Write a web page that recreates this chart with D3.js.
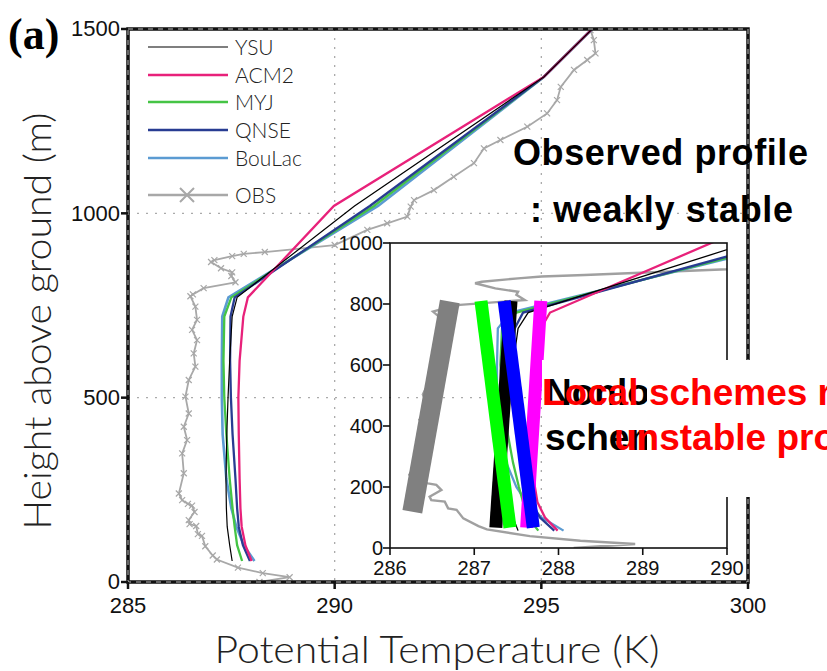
<!DOCTYPE html>
<meta charset="utf-8">
<style>
body { margin: 0; background: #fff; }
svg { display: block; }
.ticklab { font: 22px "Liberation Sans", Arial, sans-serif; fill: #111; }
.insetlab { font: 20px "Liberation Sans", Arial, sans-serif; fill: #111; }
.thin { font-family: Lato, "DejaVu Sans", sans-serif; font-weight: 300; fill: #222; }
.note { font: bold 36px "Liberation Sans", Arial, sans-serif; }
.note2 { font: bold 37px "Liberation Sans", Arial, sans-serif; }
</style>
<svg width="827" height="671"></svg>
<script src="https://d3js.org/d3.v7.min.js"></script>
<script>

// model levels (m) and potential temperature (K) of each scheme
var modelHeights = [57, 100, 150, 200, 280, 400, 500, 600, 720, 772, 1020, 1370, 1500];
var ysuTemp    = [287.52, 287.46, 287.40, 287.38, 287.37, 287.39, 287.42, 287.46, 287.52, 287.64, 290.48, 295.06, 296.23];
var acm2Temp   = [287.99, 287.84, 287.75, 287.72, 287.70, 287.68, 287.67, 287.70, 287.79, 287.90, 289.98, 295.06, 296.23];
var myjTemp    = [287.76, 287.64, 287.58, 287.53, 287.46, 287.38, 287.33, 287.31, 287.33, 287.50, 290.95, 295.06, 296.23];
var qnseTemp   = [287.95, 287.78, 287.68, 287.64, 287.60, 287.53, 287.49, 287.47, 287.48, 287.58, 290.85, 295.06, 296.23];
var boulacTemp = [288.06, 287.80, 287.62, 287.50, 287.38, 287.29, 287.27, 287.27, 287.28, 287.43, 291.05, 295.06, 296.23];

// observed sounding
var obsHeights = [0, 13, 24, 39, 61, 72, 97, 125, 130, 152, 157, 168, 190, 207, 212, 222, 240, 295, 349, 385,
                  421, 457, 503, 548, 584, 620, 656, 684, 711, 747, 775, 780, 797, 813, 830, 840, 851, 868, 873, 884,
                  890, 895, 914, 955, 973, 991, 1018, 1036, 1063, 1099, 1136, 1176, 1199, 1235, 1271, 1307, 1343, 1389,
                  1416, 1434, 1470, 1497];
var obsTemp = [288.18, 288.91, 288.26, 287.66, 287.15, 287.05, 286.87, 286.79, 286.69, 286.65, 286.49, 286.47, 286.61, 286.55, 286.45, 286.31, 286.23, 286.35, 286.31, 286.43,
               286.35, 286.47, 286.39, 286.47, 286.63, 286.59, 286.67, 286.55, 286.67, 286.63, 286.51, 286.57, 286.83, 287.60, 287.50, 287.52, 287.25, 287.01, 287.09, 287.52,
               287.80, 288.31, 290.00, 290.79, 291.27, 291.76, 291.84, 291.92, 292.40, 292.88, 293.37, 293.61, 294.01, 294.66, 295.14, 295.38, 295.47, 295.79,
               296.11, 296.31, 296.27, 296.19];

var schemeNames = ["YSU", "ACM2", "MYJ", "QNSE", "BouLac"];
var schemeTemps = [ysuTemp, acm2Temp, myjTemp, qnseTemp, boulacTemp];
var schemeColors = ["#000000", "#e8217a", "#45c445", "#283c92", "#5b9bd2"];
var schemeWidths = [1.2, 2.3, 2.3, 2.3, 2.6];

// tick values
var mainXTicks = [285, 290, 295, 300];
var mainYTicks = [0, 500, 1000, 1500];
var insetXTicks = [286, 287, 288, 289, 290];
var insetYTicks = [0, 200, 400, 600, 800, 1000];

// highlight bars in the inset (temperature / height of both ends)
var barColors = ["#808080", "#000000", "#00ff00", "#ff00ff", "#0000ff"];
var barTopTemp = [286.71, 287.436, 287.08, 287.79, 287.355];
var barTopHeight = [808, 810, 810, 810, 810];
var barBottomTemp = [286.265, 287.256, 287.424, 287.622, 287.701];
var barBottomHeight = [119, 67, 67, 67, 67];

var svg = d3.select("svg");

var x = d3.scaleLinear().domain([285, 300]).range([128, 748]);
var y = d3.scaleLinear().domain([0, 1500]).range([582, 29]);
var xi = d3.scaleLinear().domain([286, 290]).range([390, 727]);
var yi = d3.scaleLinear().domain([0, 1000]).range([548, 243]);

var defs = svg.append("defs");
defs.append("clipPath").attr("id", "mainclip").append("rect")
    .attr("x", x(285)).attr("y", y(1500)).attr("width", x(300) - x(285)).attr("height", y(0) - y(1500));
defs.append("clipPath").attr("id", "insetclip").append("rect")
    .attr("x", xi(286)).attr("y", yi(1000)).attr("width", xi(290) - xi(286)).attr("height", yi(0) - yi(1000));
defs.append("clipPath").attr("id", "blackclip").append("rect")
    .attr("x", 540).attr("y", 355).attr("width", 107).attr("height", 145);

// grid
var grid = svg.append("g").attr("stroke", "#aaa").attr("stroke-width", 1.3).attr("stroke-dasharray", "2,7");
grid.selectAll("line.gx").data([290, 295]).enter().append("line")
    .attr("x1", d => x(d)).attr("x2", d => x(d)).attr("y1", y(1500)).attr("y2", y(0));
grid.selectAll("line.gy").data([500, 1000]).enter().append("line")
    .attr("x1", x(285)).attr("x2", x(300)).attr("y1", d => y(d)).attr("y2", d => y(d));

function profile(temps, heights, sx, sy) {
  return d3.line().x(d => sx(d[0])).y(d => sy(d[1]))(temps.map((t, i) => [t, heights[i]]));
}

// main profiles
var main = svg.append("g").attr("clip-path", "url(#mainclip)").attr("fill", "none");
main.append("path").attr("d", profile(obsTemp, obsHeights, x, y))
    .attr("stroke", "#a8a8a8").attr("stroke-width", 1.8);
main.selectAll("path.mk").data(obsTemp).enter().append("path")
    .attr("d", (t, i) => {
      var cx = x(t), cy = y(obsHeights[i]), s = 3;
      return "M" + (cx - s) + "," + (cy - s) + "L" + (cx + s) + "," + (cy + s) +
             "M" + (cx - s) + "," + (cy + s) + "L" + (cx + s) + "," + (cy - s);
    })
    .attr("stroke", "#a8a8a8").attr("stroke-width", 1.2);
[4, 2, 3, 1, 0].forEach(function(k) {
  main.append("path").attr("d", profile(schemeTemps[k], modelHeights, x, y))
      .attr("stroke", schemeColors[k]).attr("stroke-width", schemeWidths[k]);
});

// frame
svg.append("rect").attr("x", x(285)).attr("y", y(1500)).attr("width", x(300) - x(285)).attr("height", y(0) - y(1500))
    .attr("fill", "none").attr("stroke", "#111").attr("stroke-width", 3.5);
svg.append("rect").attr("x", x(285)).attr("y", y(1500)).attr("width", x(300) - x(285)).attr("height", y(0) - y(1500))
    .attr("fill", "none").attr("stroke", "#bbb").attr("stroke-width", 1).attr("stroke-dasharray", "5,5");

// main ticks + labels
svg.selectAll("line.ytk").data(mainYTicks).enter().append("line")
    .attr("x1", x(285) - 7).attr("x2", x(285)).attr("y1", d => y(d)).attr("y2", d => y(d))
    .attr("stroke", "#111").attr("stroke-width", 2.5);
svg.selectAll("line.xtk").data(mainXTicks).enter().append("line")
    .attr("x1", d => x(d)).attr("x2", d => x(d)).attr("y1", y(0)).attr("y2", y(0) + 7)
    .attr("stroke", "#111").attr("stroke-width", 2.5);
svg.selectAll("text.ylab").data(mainYTicks).enter().append("text").attr("class", "ticklab")
    .attr("x", x(285) - 8).attr("y", d => y(d)).attr("dy", "0.34em").attr("text-anchor", "end")
    .text(d => d);
svg.selectAll("text.xlab").data(mainXTicks).enter().append("text").attr("class", "ticklab")
    .attr("x", d => x(d)).attr("y", 613).attr("text-anchor", "middle")
    .text(d => d);

// axis titles
svg.append("text").attr("class", "thin").attr("x", 437).attr("y", 663).attr("text-anchor", "middle")
    .attr("font-size", 37).attr("textLength", 445).attr("lengthAdjust", "spacingAndGlyphs")
    .text("Potential Temperature (K)");
svg.append("text").attr("class", "thin").attr("transform", "translate(51,321) rotate(-90)").attr("text-anchor", "middle")
    .attr("font-size", 37).attr("textLength", 417).attr("lengthAdjust", "spacingAndGlyphs")
    .text("Height above ground (m)");

svg.append("text").attr("x", 8).attr("y", 49)
    .style("font", "bold 44px 'Liberation Serif', 'Times New Roman', serif").text("(a)");

// legend
var legY = [47, 75, 102, 130, 158];
var leg = svg.append("g");
schemeNames.forEach(function(n, k) {
  leg.append("line").attr("x1", 148).attr("x2", 228).attr("y1", legY[k]).attr("y2", legY[k])
     .attr("stroke", schemeColors[k]).attr("stroke-width", k == 0 ? 1.2 : 2.6);
  leg.append("text").attr("class", "thin").attr("font-size", 21).attr("x", 235).attr("y", legY[k]).attr("dy", "0.36em").text(n);
});
leg.append("line").attr("x1", 148).attr("x2", 228).attr("y1", 195).attr("y2", 195)
   .attr("stroke", "#a8a8a8").attr("stroke-width", 2.6);
leg.append("path").attr("d", "M180,188L194,202M180,202L194,188").attr("stroke", "#a8a8a8").attr("stroke-width", 2);
leg.append("text").attr("class", "thin").attr("font-size", 21).attr("x", 235).attr("y", 195).attr("dy", "0.36em").text("OBS");

// annotation
svg.append("text").attr("class", "note").attr("x", 513).attr("y", 165).attr("textLength", 295).text("Observed profile");
svg.append("text").attr("class", "note").attr("x", 530).attr("y", 222).attr("textLength", 263).text(": weakly stable");

// inset
var inset = svg.append("g");
var ig = inset.append("g").attr("clip-path", "url(#insetclip)").attr("fill", "none");
ig.append("path").attr("d", profile(obsTemp, obsHeights, xi, yi)).attr("stroke", "#a0a0a0").attr("stroke-width", 2.4);
[4, 2, 3, 1, 0].forEach(function(k) {
  ig.append("path").attr("d", profile(schemeTemps[k], modelHeights, xi, yi))
    .attr("stroke", schemeColors[k]).attr("stroke-width", k == 0 ? 1.3 : 2.3);
});
inset.append("rect").attr("x", xi(286)).attr("y", yi(1000)).attr("width", xi(290) - xi(286)).attr("height", yi(0) - yi(1000))
    .attr("fill", "none").attr("stroke", "#111").attr("stroke-width", 1.6);
inset.selectAll("line.iy").data(insetYTicks).enter().append("line")
    .attr("x1", xi(286) - 7).attr("x2", xi(286)).attr("y1", d => yi(d)).attr("y2", d => yi(d)).attr("stroke", "#111").attr("stroke-width", 1.6);
inset.selectAll("line.ix").data(insetXTicks).enter().append("line")
    .attr("x1", d => xi(d)).attr("x2", d => xi(d)).attr("y1", yi(0)).attr("y2", yi(0) + 7).attr("stroke", "#111").attr("stroke-width", 1.6);
inset.selectAll("text.iyl").data(insetYTicks).enter().append("text").attr("class", "insetlab")
    .attr("x", xi(286) - 7).attr("y", d => yi(d)).attr("dy", "0.36em").attr("text-anchor", "end").text(d => d);
inset.selectAll("text.ixl").data(insetXTicks).enter().append("text").attr("class", "insetlab")
    .attr("x", d => xi(d)).attr("y", 575).attr("text-anchor", "middle").text(d => d);

// highlight bars
var barWidths = [20, 13, 13, 13, 13];
inset.selectAll("line.bar").data(barColors).enter().append("line")
    .attr("x1", (c, i) => xi(barTopTemp[i])).attr("y1", (c, i) => yi(barTopHeight[i]))
    .attr("x2", (c, i) => xi(barBottomTemp[i])).attr("y2", (c, i) => yi(barBottomHeight[i]))
    .attr("stroke", c => c).attr("stroke-width", (c, i) => barWidths[i]);

// text box over the inset
svg.append("rect").attr("x", 542).attr("y", 360).attr("width", 290).attr("height", 137).attr("fill", "#fff");
var bl = svg.append("g").attr("clip-path", "url(#blackclip)");
bl.append("text").attr("class", "note2").attr("fill", "#000").attr("x", 545).attr("y", 405).text("Nonlocal");
bl.append("text").attr("class", "note2").attr("fill", "#000").attr("x", 545).attr("y", 450).text("schemes");
svg.append("text").attr("class", "note2").attr("fill", "#ff0000").attr("x", 542).attr("y", 405).text("Local schemes reproduce");
svg.append("text").attr("class", "note2").attr("fill", "#ff0000").attr("x", 614).attr("y", 450).text("unstable profile");

</script>
